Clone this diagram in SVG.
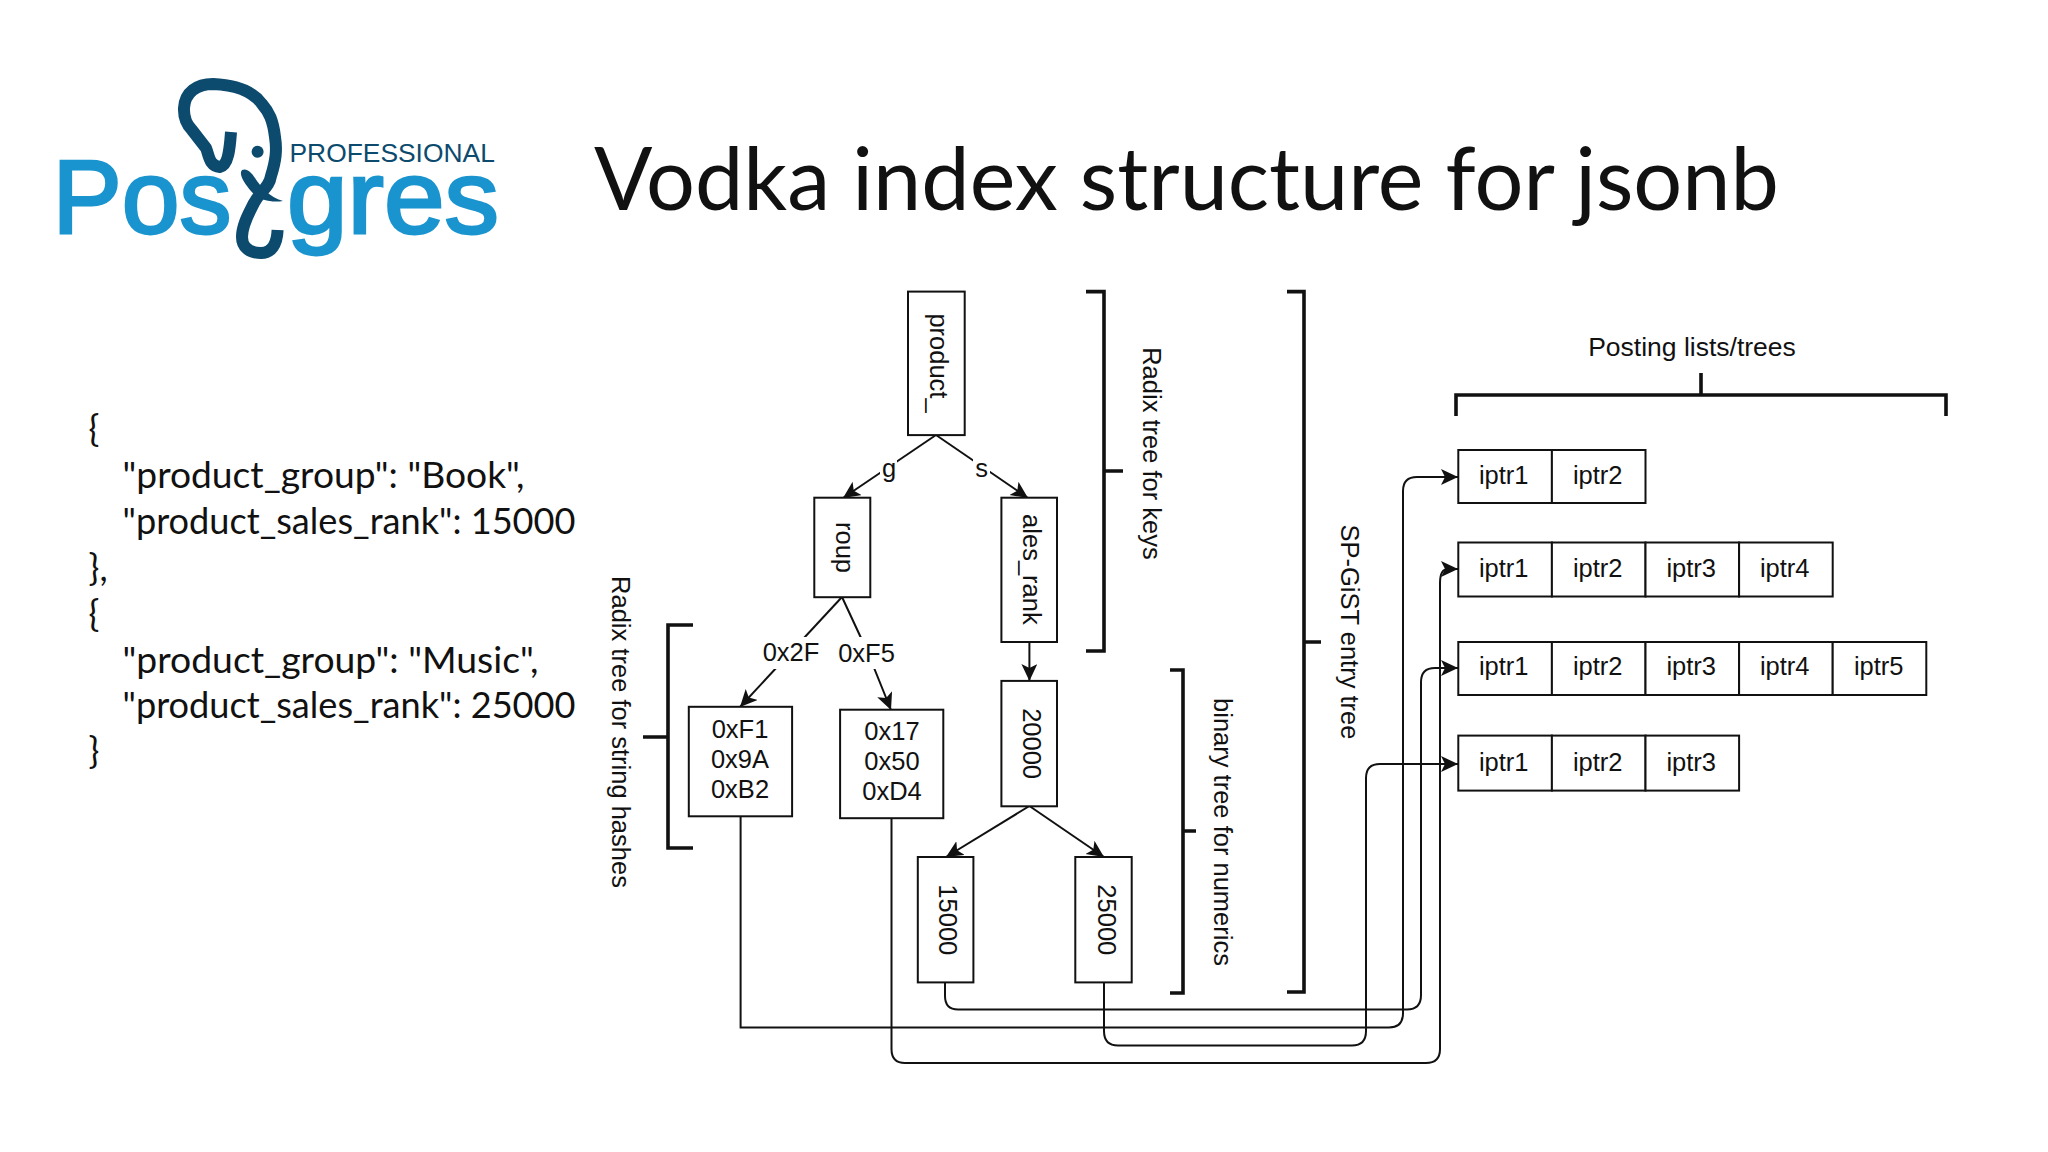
<svg xmlns="http://www.w3.org/2000/svg" width="2048" height="1152" viewBox="0 0 2048 1152">
<style>
.b{fill:#fff;stroke:#111;stroke-width:2}
.t{font-family:"Liberation Sans",Arial,sans-serif;font-size:25.5px;fill:#111}
.m{text-anchor:middle}
.j{font-family:Lato,"Open Sans",sans-serif;font-size:36px;fill:#111}
.c{fill:none;stroke:#111;stroke-width:2}
.k{fill:none;stroke:#111;stroke-width:3.6}
.bg{fill:#fff}
.lg{font-family:"Liberation Sans",sans-serif;font-size:104px;fill:#1a94cf;stroke:#1a94cf;stroke-width:2.800}
</style>
<defs>
<marker id="a" markerUnits="userSpaceOnUse" markerWidth="20" markerHeight="20" refX="17" refY="8" orient="auto">
<path d="M0 0L17 8L0 16L4 8Z" fill="#111"/>
</marker>
</defs>
<rect width="2048" height="1152" fill="#fff"/>
<g id="logo">
<text class="lg" x="52.500" y="233" textLength="179" lengthAdjust="spacingAndGlyphs">Pos</text>
<text class="lg" x="287" y="233" textLength="212" lengthAdjust="spacingAndGlyphs">gres</text>
<text x="289.500" y="162" font-family="Liberation Sans,sans-serif" font-size="26.400" fill="#0c4a6e">PROFESSIONAL</text>
<g transform="translate(-1 0)">
<path d="M278.600 230C278 245 272 253 262 253C250 253 243 247 243 237C243 225 250 213 255 203C262 190 270 188 272 176C277 160 278 150 276 137C274 120 270 112 263 104C255 93 240 85 214 84C198 84 186 92 185 108C184.500 120 190 127 193 130L207 148C210 155 210 166 221 167C230 165 231 145 232 132" fill="none" stroke="#0c4a6e" stroke-width="12"/>
<circle cx="258.600" cy="151.700" r="6" fill="#0c4a6e"/>
<path d="M243 170C248 168 252 172 256 178C262 187 270 197 284 201C270 203 258 199 251 190C247 185 239 175 243 170Z" fill="#0c4a6e"/>
</g>
</g>
<text id="title" x="594" y="210" font-family="Lato,sans-serif" font-size="86.400" fill="#111">Vodka index structure for jsonb</text>
<g id="json" class="j">
<text x="88.600" y="442">{</text>
<text x="122.500" y="487.700" textLength="402" lengthAdjust="spacingAndGlyphs">"product_group": "Book",</text>
<text x="122.500" y="533.700" textLength="453" lengthAdjust="spacingAndGlyphs">"product_sales_rank": 15000</text>
<text x="88.600" y="580.700">},</text>
<text x="88.600" y="626.700">{</text>
<text x="122.500" y="672.700" textLength="416" lengthAdjust="spacingAndGlyphs">"product_group": "Music",</text>
<text x="122.500" y="718.400" textLength="453" lengthAdjust="spacingAndGlyphs">"product_sales_rank": 25000</text>
<text x="88.600" y="764.400">}</text>
</g>
<g id="connectors">
<path class="c" marker-end="url(#a)" d="M936 435L843 498"/>
<path class="c" marker-end="url(#a)" d="M936 435L1028 498"/>
<path class="c" marker-end="url(#a)" d="M842 597L740 707"/>
<path class="c" marker-end="url(#a)" d="M842 597L868 653L891 710"/>
<path class="c" marker-end="url(#a)" d="M1029.400 642V681"/>
<path class="c" marker-end="url(#a)" d="M1029.400 806L946 857"/>
<path class="c" marker-end="url(#a)" d="M1029.400 806L1104 857"/>
<path class="c" marker-end="url(#a)" d="M740.600 816V1027.500H1389Q1403 1027.500 1403 1013V491Q1403 477 1417 477H1458"/>
<path class="c" marker-end="url(#a)" d="M945 982.500V996Q945 1009.500 958 1009.500H1407Q1421 1009.500 1421 995V682Q1421 668 1435 668H1458"/>
<path class="c" marker-end="url(#a)" d="M891.500 818V1049Q891.500 1063 905 1063H1426Q1440 1063 1440 1049V583Q1440 569 1448 569H1458"/>
<path class="c" marker-end="url(#a)" d="M1104 982.500V1031Q1104 1045.500 1118 1045.500H1352Q1366 1045.500 1366 1031V778Q1366 764 1380 764H1458"/>
</g>
<g id="edge-labels" class="t m">
<rect class="bg" x="880" y="450" width="17" height="32"/><text x="889" y="476.800">g</text>
<rect class="bg" x="973" y="450" width="17" height="32"/><text x="981.500" y="476.800">s</text>
<rect class="bg" x="760" y="637" width="62" height="32"/><text x="791" y="661">0x2F</text>
<rect class="bg" x="836" y="637" width="62" height="32"/><text x="866.500" y="662">0xF5</text>
</g>
<g id="n-product"><rect class="b" x="908" y="291.600" width="56.700" height="143.500"/><text class="t m" transform="translate(929.500 363) rotate(90)">product_</text></g>
<g id="n-roup"><rect class="b" x="814.300" y="497.700" width="56" height="99.500"/><text class="t m" transform="translate(835.500 547.500) rotate(90)">roup</text></g>
<g id="n-ales"><rect class="b" x="1001.400" y="497.700" width="55.600" height="144.300"/><text class="t m" transform="translate(1022.900 569.400) rotate(90)">ales_rank</text></g>
<g id="n-20000"><rect class="b" x="1001.400" y="680.900" width="55.600" height="125.400"/><text class="t m" transform="translate(1022.900 743.600) rotate(90)">20000</text></g>
<g id="n-15000"><rect class="b" x="917.800" y="857" width="55.600" height="125.400"/><text class="t m" transform="translate(938.500 919.800) rotate(90)">15000</text></g>
<g id="n-25000"><rect class="b" x="1075.300" y="857" width="56.400" height="125.400"/><text class="t m" transform="translate(1097.500 919.800) rotate(90)">25000</text></g>
<g id="n-hash1"><rect class="b" x="688.800" y="706.800" width="103.300" height="109.500"/><text class="t m" x="740" y="737.600">0xF1</text><text class="t m" x="740" y="768">0x9A</text><text class="t m" x="740" y="798.300">0xB2</text></g>
<g id="n-hash2"><rect class="b" x="840.100" y="709.700" width="103.200" height="108.500"/><text class="t m" x="892" y="739.600">0x17</text><text class="t m" x="892" y="770">0x50</text><text class="t m" x="892" y="800.300">0xD4</text></g>
<g id="brackets">
<path class="k" d="M1086 291.600H1104V651H1086M1104 471H1123"/>
<path class="k" d="M693 625H668V848H693M668 737H643"/>
<path class="k" d="M1170 670H1183V993H1170M1183 831H1196"/>
<path class="k" d="M1287 291.600H1304V992H1287M1304 642H1321"/>
<path class="k" d="M1456 416V395H1946V416M1701 395V373"/>
</g>
<g id="bracket-labels" class="t m">
<text transform="translate(1143 453.500) rotate(90)">Radix tree for keys</text>
<text transform="translate(612 732) rotate(90)">Radix tree for string hashes</text>
<text transform="translate(1214 832) rotate(90)">binary tree for numerics</text>
<text transform="translate(1341 632) rotate(90)">SP-GiST entry tree</text>
<text x="1692" y="356" style="font-size:26.5px">Posting lists/trees</text>
</g>
<g id="list1"><rect class="b" x="1458.300" y="450" width="93.600" height="53"/><rect class="b" x="1551.900" y="450" width="93.600" height="53"/><text class="t m" x="1503.700" y="483.500">iptr1</text><text class="t m" x="1597.700" y="483.500">iptr2</text></g>
<g id="list2"><rect class="b" x="1458.300" y="542.500" width="93.600" height="54"/><rect class="b" x="1551.900" y="542.500" width="93.600" height="54"/><rect class="b" x="1645.500" y="542.500" width="93.600" height="54"/><rect class="b" x="1739.100" y="542.500" width="93.600" height="54"/><text class="t m" x="1503.700" y="576.500">iptr1</text><text class="t m" x="1597.700" y="576.500">iptr2</text><text class="t m" x="1691.200" y="576.500">iptr3</text><text class="t m" x="1784.700" y="576.500">iptr4</text></g>
<g id="list3"><rect class="b" x="1458.300" y="642" width="93.600" height="53"/><rect class="b" x="1551.900" y="642" width="93.600" height="53"/><rect class="b" x="1645.500" y="642" width="93.600" height="53"/><rect class="b" x="1739.100" y="642" width="93.600" height="53"/><rect class="b" x="1832.700" y="642" width="93.600" height="53"/><text class="t m" x="1503.700" y="675">iptr1</text><text class="t m" x="1597.700" y="675">iptr2</text><text class="t m" x="1691.200" y="675">iptr3</text><text class="t m" x="1784.700" y="675">iptr4</text><text class="t m" x="1878.700" y="675">iptr5</text></g>
<g id="list4"><rect class="b" x="1458.300" y="735.600" width="93.600" height="55"/><rect class="b" x="1551.900" y="735.600" width="93.600" height="55"/><rect class="b" x="1645.500" y="735.600" width="93.600" height="55"/><text class="t m" x="1503.700" y="770.500">iptr1</text><text class="t m" x="1597.700" y="770.500">iptr2</text><text class="t m" x="1691.200" y="770.500">iptr3</text></g>
</svg>
